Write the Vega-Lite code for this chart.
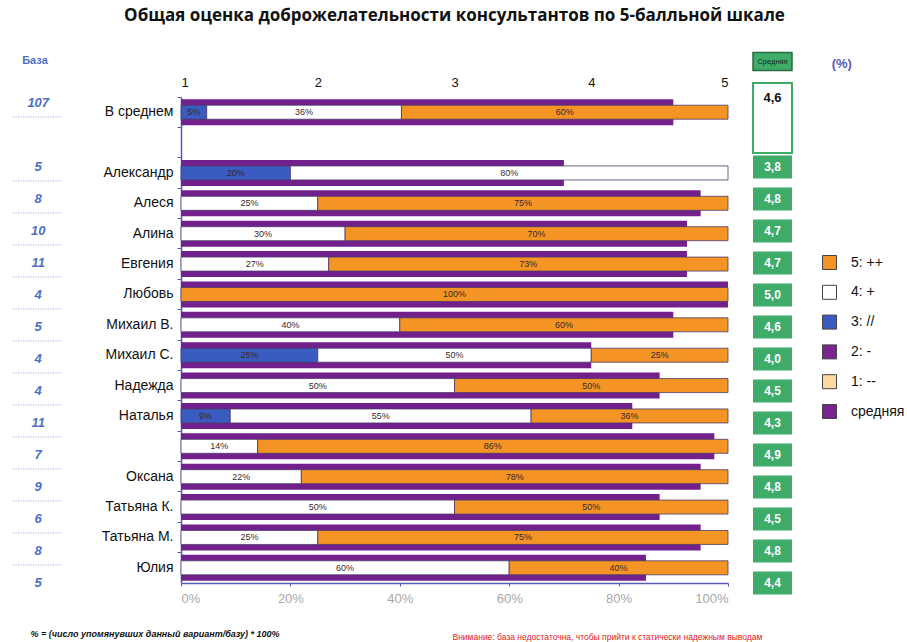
{
  "$schema": "https://vega.github.io/schema/vega-lite/v6.json",
  "width": 547,
  "height": 486,
  "autosize": "none",
  "padding": {"left": 181, "top": 97, "right": 179, "bottom": 59},
  "background": "white",
  "config": {
    "view": {"stroke": null},
    "font": "Liberation Sans",
    "locale": {"number": {"decimal": ",", "thousands": " ", "grouping": [3], "currency": ["", ""]}}
  },
  "title": {
    "text": "Общая оценка доброжелательности консультантов по 5-балльной шкале",
    "font": "Open Sans",
    "fontSize": 17,
    "fontWeight": "bold",
    "color": "#111111",
    "anchor": "middle",
    "frame": "group",
    "offset": 27
  },
  "resolve": {"scale": {"x": "independent", "y": "independent"}},
  "layer": [
    {
      "data": {"values": [
        {"row": "В среднем", "avg": 4.6}, {"row": "Александр", "avg": 3.8}, {"row": "Алеся", "avg": 4.8},
        {"row": "Алина", "avg": 4.7}, {"row": "Евгения", "avg": 4.7}, {"row": "Любовь", "avg": 5.0},
        {"row": "Михаил В.", "avg": 4.6}, {"row": "Михаил С.", "avg": 4.0}, {"row": "Надежда", "avg": 4.5},
        {"row": "Наталья", "avg": 4.3}, {"row": "  ", "avg": 4.9}, {"row": "Оксана", "avg": 4.8},
        {"row": "Татьяна К.", "avg": 4.5}, {"row": "Татьяна М.", "avg": 4.8}, {"row": "Юлия", "avg": 4.4}
      ]},
      "mark": {"type": "bar", "height": 26, "color": "#72208c", "clip": true},
      "encoding": {
        "y": {"field": "row", "type": "nominal", "scale": {"domain": ["В среднем", " ", "Александр", "Алеся", "Алина", "Евгения", "Любовь", "Михаил В.", "Михаил С.", "Надежда", "Наталья", "  ", "Оксана", "Татьяна К.", "Татьяна М.", "Юлия"], "paddingInner": 0, "paddingOuter": 0}, "axis": null},
        "x": {"field": "avg", "type": "quantitative", "scale": {"domain": [1, 5], "nice": false, "zero": false},
          "axis": {"orient": "top", "values": [1, 2, 3, 4, 5], "format": "d", "grid": false, "domain": false, "ticks": false, "labelFontSize": 13, "labelColor": "#111111", "labelPadding": 8,
            "title": "Внимание: база недостаточна, чтобы прийти к статически надежным выводам", "titleColor": "#e0201c", "titleFontSize": 8.5, "titleFontWeight": "normal", "titleX": 271, "titleY": 539, "titleAlign": "left", "titleBaseline": "middle", "titleAngle": 0}}
      }
    },
    {
      "data": {"values": [
        {"row": "В среднем", "g": 3, "grade": "3: //", "share": 0.047},
        {"row": "В среднем", "g": 4, "grade": "4: +", "share": 0.356},
        {"row": "В среднем", "g": 5, "grade": "5: ++", "share": 0.597},
        {"row": "Александр", "g": 3, "grade": "3: //", "share": 0.2},
        {"row": "Александр", "g": 4, "grade": "4: +", "share": 0.8},
        {"row": "Алеся", "g": 4, "grade": "4: +", "share": 0.25},
        {"row": "Алеся", "g": 5, "grade": "5: ++", "share": 0.75},
        {"row": "Алина", "g": 4, "grade": "4: +", "share": 0.3},
        {"row": "Алина", "g": 5, "grade": "5: ++", "share": 0.7},
        {"row": "Евгения", "g": 4, "grade": "4: +", "share": 0.27},
        {"row": "Евгения", "g": 5, "grade": "5: ++", "share": 0.73},
        {"row": "Любовь", "g": 5, "grade": "5: ++", "share": 1.0},
        {"row": "Михаил В.", "g": 4, "grade": "4: +", "share": 0.4},
        {"row": "Михаил В.", "g": 5, "grade": "5: ++", "share": 0.6},
        {"row": "Михаил С.", "g": 3, "grade": "3: //", "share": 0.25},
        {"row": "Михаил С.", "g": 4, "grade": "4: +", "share": 0.5},
        {"row": "Михаил С.", "g": 5, "grade": "5: ++", "share": 0.25},
        {"row": "Надежда", "g": 4, "grade": "4: +", "share": 0.5},
        {"row": "Надежда", "g": 5, "grade": "5: ++", "share": 0.5},
        {"row": "Наталья", "g": 3, "grade": "3: //", "share": 0.09},
        {"row": "Наталья", "g": 4, "grade": "4: +", "share": 0.55},
        {"row": "Наталья", "g": 5, "grade": "5: ++", "share": 0.36},
        {"row": "  ", "g": 4, "grade": "4: +", "share": 0.14},
        {"row": "  ", "g": 5, "grade": "5: ++", "share": 0.86},
        {"row": "Оксана", "g": 4, "grade": "4: +", "share": 0.22},
        {"row": "Оксана", "g": 5, "grade": "5: ++", "share": 0.78},
        {"row": "Татьяна К.", "g": 4, "grade": "4: +", "share": 0.5},
        {"row": "Татьяна К.", "g": 5, "grade": "5: ++", "share": 0.5},
        {"row": "Татьяна М.", "g": 4, "grade": "4: +", "share": 0.25},
        {"row": "Татьяна М.", "g": 5, "grade": "5: ++", "share": 0.75},
        {"row": "Юлия", "g": 4, "grade": "4: +", "share": 0.6},
        {"row": "Юлия", "g": 5, "grade": "5: ++", "share": 0.4}
      ]},
      "layer": [
        {
          "mark": {"type": "bar", "height": 14, "stroke": "#4b3b6b", "strokeWidth": 0.8},
          "encoding": {
            "y": {"field": "row", "type": "nominal", "scale": {"domain": ["В среднем", " ", "Александр", "Алеся", "Алина", "Евгения", "Любовь", "Михаил В.", "Михаил С.", "Надежда", "Наталья", "  ", "Оксана", "Татьяна К.", "Татьяна М.", "Юлия"], "paddingInner": 0, "paddingOuter": 0},
              "axis": {"orient": "left", "title": null, "bandPosition": 0, "labelOffset": 0, "labelFontSize": 14, "labelColor": "#111111", "labelPadding": 4, "tickSize": 4, "tickColor": "#5a5ab0", "domainColor": "#5a5ab0", "domainWidth": 1.5, "grid": false}},
            "x": {"field": "share", "type": "quantitative", "stack": "zero", "scale": {"domain": [0, 1], "nice": false},
              "axis": {"orient": "bottom", "values": [0, 0.2, 0.4, 0.6, 0.8, 1], "format": ".0%", "grid": false, "labelColor": "#a8a8a8", "labelFontSize": 13, "labelPadding": 6, "domainColor": "#5a5ab0", "domainWidth": 1.5, "tickColor": "#5a5ab0", "tickSize": 3,
                "title": "% = (число упомянувших данный вариант/базу) * 100%", "titleFontSize": 9, "titleFontStyle": "italic", "titleFontWeight": "bold", "titleColor": "#111111", "titleX": -151, "titleY": 50, "titleAlign": "left", "titleBaseline": "middle", "titleAngle": 0}},
            "color": {"field": "grade", "type": "nominal", "scale": {"domain": ["5: ++", "4: +", "3: //", "2: -", "1: --", "средняя"], "range": ["#f39424", "#ffffff", "#3a5bbf", "#7a2590", "#fdd8a0", "#7a2390"]},
              "legend": {"orient": "none", "legendX": 641, "legendY": 158, "title": null, "symbolType": "square", "symbolSize": 196, "symbolStrokeColor": "#444444", "symbolStrokeWidth": 1, "labelFontSize": 14, "labelColor": "#111111", "labelOffset": 14, "rowPadding": 10.8}},
            "order": {"field": "g", "type": "quantitative"}
          }
        },
        {
          "mark": {"type": "text", "fontSize": 9, "color": "#3a2a2a"},
          "encoding": {
            "y": {"field": "row", "type": "nominal", "scale": {"domain": ["В среднем", " ", "Александр", "Алеся", "Алина", "Евгения", "Любовь", "Михаил В.", "Михаил С.", "Надежда", "Наталья", "  ", "Оксана", "Татьяна К.", "Татьяна М.", "Юлия"], "paddingInner": 0, "paddingOuter": 0}},
            "x": {"field": "share", "type": "quantitative", "stack": "zero", "bandPosition": 0.5, "scale": {"domain": [0, 1], "nice": false}},
            "detail": {"field": "grade"},
            "order": {"field": "g", "type": "quantitative"},
            "text": {"field": "share", "type": "quantitative", "format": ".0%"}
          }
        }
      ]
    },
    {
      "data": {"values": [
        {"row": "В среднем", "base": 107, "avg": 4.6}, {"row": "Александр", "base": 5, "avg": 3.8},
        {"row": "Алеся", "base": 8, "avg": 4.8}, {"row": "Алина", "base": 10, "avg": 4.7},
        {"row": "Евгения", "base": 11, "avg": 4.7}, {"row": "Любовь", "base": 4, "avg": 5.0},
        {"row": "Михаил В.", "base": 5, "avg": 4.6}, {"row": "Михаил С.", "base": 4, "avg": 4.0},
        {"row": "Надежда", "base": 4, "avg": 4.5}, {"row": "Наталья", "base": 11, "avg": 4.3},
        {"row": "  ", "base": 7, "avg": 4.9}, {"row": "Оксана", "base": 9, "avg": 4.8},
        {"row": "Татьяна К.", "base": 6, "avg": 4.5}, {"row": "Татьяна М.", "base": 8, "avg": 4.8},
        {"row": "Юлия", "base": 5, "avg": 4.4}
      ]},
      "encoding": {
        "y": {"field": "row", "type": "nominal", "scale": {"domain": ["hdr", "В среднем", " ", "Александр", "Алеся", "Алина", "Евгения", "Любовь", "Михаил В.", "Михаил С.", "Надежда", "Наталья", "  ", "Оксана", "Татьяна К.", "Татьяна М.", "Юлия"], "range": [-42, 502], "paddingInner": 0, "paddingOuter": 0}, "axis": null}
      },
      "layer": [
        {
          "transform": [{"filter": "datum.row != 'Юлия'"}],
          "mark": {"type": "rule", "yOffset": 14, "strokeDash": [1, 1.5], "color": "#8ea2d8", "strokeWidth": 1},
          "encoding": {
            "x": {"datum": -0.307, "type": "quantitative", "scale": {"domain": [0, 1], "nice": false}, "axis": null},
            "x2": {"datum": -0.216}
          }
        },
        {
          "mark": {"type": "text", "fontSize": 13, "fontStyle": "italic", "fontWeight": "bold", "color": "#4d6fc4"},
          "encoding": {
            "x": {"datum": -0.261, "type": "quantitative", "scale": {"domain": [0, 1], "nice": false}, "axis": null},
            "text": {"field": "base", "type": "quantitative"}
          }
        },
        {
          "transform": [{"filter": "datum.row != 'В среднем'"}],
          "mark": {"type": "bar", "height": 23, "color": "#3fab69"},
          "encoding": {
            "x": {"datum": 1.0457, "type": "quantitative", "scale": {"domain": [0, 1], "nice": false}, "axis": null},
            "x2": {"datum": 1.117}
          }
        },
        {
          "transform": [{"filter": "datum.row == 'В среднем'"}],
          "mark": {"type": "bar", "height": 70, "yOffset": 15, "fill": "#ffffff", "stroke": "#3fab69", "strokeWidth": 2},
          "encoding": {
            "x": {"datum": 1.0457, "type": "quantitative", "scale": {"domain": [0, 1], "nice": false}, "axis": null},
            "x2": {"datum": 1.117}
          }
        },
        {
          "transform": [{"filter": "datum.row != 'В среднем'"}],
          "mark": {"type": "text", "fontSize": 12, "fontWeight": "bold", "color": "#ffffff"},
          "encoding": {
            "x": {"datum": 1.0814, "type": "quantitative", "scale": {"domain": [0, 1], "nice": false}, "axis": null},
            "text": {"field": "avg", "type": "quantitative", "format": ".1f"}
          }
        },
        {
          "transform": [{"filter": "datum.row == 'В среднем'"}],
          "mark": {"type": "text", "fontSize": 13, "fontWeight": "bold", "color": "#111111", "dy": -5},
          "encoding": {
            "x": {"datum": 1.0814, "type": "quantitative", "scale": {"domain": [0, 1], "nice": false}, "axis": null},
            "text": {"field": "avg", "type": "quantitative", "format": ".1f"}
          }
        },
        {
          "data": {"values": [{"row": "hdr", "label": "Средняя"}]},
          "mark": {"type": "bar", "height": 18, "yOffset": -9.5, "fill": "#3fab69", "stroke": "#2a6b40", "strokeWidth": 1.5},
          "encoding": {
            "x": {"datum": 1.0457, "type": "quantitative", "scale": {"domain": [0, 1], "nice": false}, "axis": null},
            "x2": {"datum": 1.117}
          }
        },
        {
          "data": {"values": [{"row": "hdr", "label": "Средняя"}]},
          "mark": {"type": "text", "fontSize": 7.5, "color": "#10301a", "dy": -9.5},
          "encoding": {
            "x": {"datum": 1.0814, "type": "quantitative", "scale": {"domain": [0, 1], "nice": false}, "axis": null},
            "text": {"field": "label", "type": "nominal"}
          }
        },
        {
          "data": {"values": [{"row": "hdr", "label": "База"}]},
          "mark": {"type": "text", "fontSize": 11, "fontWeight": "bold", "color": "#4d6fc4", "dy": -10},
          "encoding": {
            "x": {"datum": -0.267, "type": "quantitative", "scale": {"domain": [0, 1], "nice": false}, "axis": null},
            "text": {"field": "label", "type": "nominal"}
          }
        },
        {
          "data": {"values": [{"row": "hdr", "label": "(%)"}]},
          "mark": {"type": "text", "fontSize": 13, "fontWeight": "bold", "color": "#5b5bb8", "dy": -7},
          "encoding": {
            "x": {"datum": 1.208, "type": "quantitative", "scale": {"domain": [0, 1], "nice": false}, "axis": null},
            "text": {"field": "label", "type": "nominal"}
          }
        }
      ]
    }
  ]
}
